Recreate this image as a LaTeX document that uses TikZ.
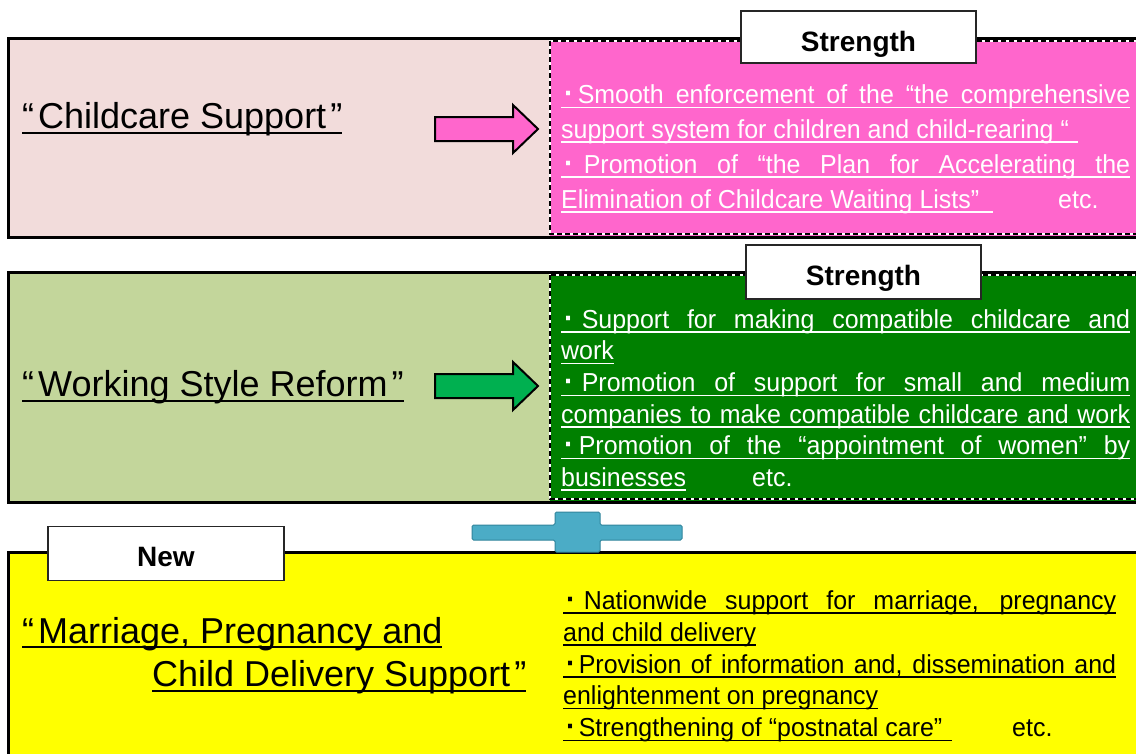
\documentclass[tikz,border=0pt]{standalone}
\usepackage{fontspec}
\setmainfont{Liberation Sans}
\newfontfamily\bodyf[FakeStretch=0.96]{Liberation Sans}
\definecolor{lpink}{HTML}{F2DCDB}
\definecolor{hpink}{HTML}{FF66CC}
\definecolor{lgreen}{HTML}{C3D69B}
\definecolor{dgreen}{HTML}{008000}
\definecolor{agreen}{HTML}{00B050}
\definecolor{plusfill}{HTML}{4BACC6}
\definecolor{plusline}{HTML}{31859C}
\definecolor{ybox}{HTML}{FFFF00}
\newsavebox\ulbox
% #1 offset below baseline, #2 rule thickness, #3 text
\newcommand\ulx[3]{\sbox\ulbox{#3}\usebox\ulbox\llap{\rule[-#1]{\wd\ulbox}{#2}}}
\newcommand\jl[2]{\ulx{4.5pt}{1.3pt}{\makebox[#1][s]{#2}}}
\newcommand\nl[1]{\ulx{4.5pt}{1.3pt}{#1}}
\newcommand\wl[2]{\ulx{4.5pt}{1.3pt}{\makebox[#1][l]{#2}}}
\newcommand\tl[1]{\ulx{5pt}{1.8pt}{#1}}
% Japanese-style middle dot with fixed spacing
\newcommand\dt[1]{\kern3pt{\bfseries\fontsize{30pt}{30pt}\selectfont ·}\kern#1}
\newcommand\oq{“\kern4pt}
\newcommand\cq{\kern4pt”}
\newcommand\bodysize{\bodyf\fontsize{26pt}{30pt}\selectfont}
\newcommand\titlesize{\fontsize{36pt}{40pt}\selectfont}
\newcommand\labsize{\bfseries\fontsize{28pt}{32pt}\selectfont}
\begin{document}
\begin{tikzpicture}[x=1pt,y=-1pt,
  frame/.style={draw=black,line width=3pt},
  innerw/.style={draw=white,line width=1.6pt},
  innerd/.style={draw=black,line width=1.6pt,dash pattern=on 5pt off 3pt},
  blockarrow/.style={draw=black,line width=2pt,line join=miter},
  lab/.style={draw=black!85,line width=1.5pt,fill=white,font=\labsize,inner sep=0pt,text depth=0pt},
  tt/.style={inner sep=0pt,font=\titlesize,text=black,anchor=base west},
  bt/.style={inner sep=0pt,font=\bodysize,anchor=base west},
  wt/.style={bt,text=white},
  kt/.style={bt,text=black},
  plus/.style={fill=plusfill,draw=plusline,line width=1pt,rounded corners=1.5pt}]
\useasboundingbox (0,0) rectangle (1136,753);
\clip (0,0) rectangle (1136,753);
\fill[white] (0,0) rectangle (1136,753);

% ---------- Box 1: Childcare Support ----------
\fill[lpink] (8,38) rectangle (550,237);
\fill[hpink] (550,38) rectangle (1145,237);
\draw[innerw] (550,41) rectangle (1145,234);
\draw[innerd] (550,41) rectangle (1145,234);
\draw[frame] (8,38) rectangle (1145,237);
\draw[blockarrow,fill=hpink] (435,117) -- (513,117) -- (513,105) -- (538,129) -- (513,153) -- (513,141) -- (435,141) -- cycle;
\node[lab,minimum width=235pt,minimum height=52pt,text height=29pt] (s1) at (858.5,37) {Strength};
\node[tt] (t1) at (22,128.5) {\tl{\oq Childcare Support\cq}};
\node[wt] (p1) at (561,103.5) {\jl{569pt}{\dt{4pt}Smooth enforcement of the “the comprehensive}};
\node[wt] (p2) at (561,138) {\wl{517pt}{support system for children and child-rearing “}};
\node[wt] (p3) at (561,173) {\jl{569pt}{\dt{10pt}Promotion of “the Plan for Accelerating the}};
\node[wt] (p4) at (561,208) {\wl{432pt}{Elimination of Childcare Waiting Lists”}};
\node[wt] (p5) at (1058,208) {etc.};

% ---------- Box 2: Working Style Reform ----------
\fill[lgreen] (8,272) rectangle (550,502);
\fill[dgreen] (550,272) rectangle (1145,502);
\draw[innerw] (550,275) rectangle (1145,499);
\draw[innerd] (550,275) rectangle (1145,499);
\draw[frame] (8,272) rectangle (1145,502);
\draw[blockarrow,fill=agreen] (435,374) -- (513,374) -- (513,362) -- (538,386) -- (513,410) -- (513,398) -- (435,398) -- cycle;
\node[lab,minimum width=235pt,minimum height=54pt,text height=26pt] (s2) at (863.5,272) {Strength};
\node[tt] (t2) at (22,396.7) {\tl{\oq Working Style Reform\cq}};
\node[wt] (g1) at (561,328) {\jl{569pt}{\dt{8pt}Support for making compatible childcare and}};
\node[wt] (g2) at (561,359.7) {\nl{work}};
\node[wt] (g3) at (561,391.3) {\jl{569pt}{\dt{8pt}Promotion of support for small and medium}};
\node[wt] (g4) at (561,423) {\jl{569pt}{companies to make compatible childcare and work}};
\node[wt] (g5) at (561,454.6) {\jl{569pt}{\dt{5pt}Promotion of the “appointment of women” by}};
\node[wt] (g6) at (561,486.2) {\nl{businesses}};
\node[wt] (g7) at (752,486.2) {etc.};

% ---------- Box 3: Marriage, Pregnancy and Child Delivery Support ----------
\fill[ybox] (8,552) rectangle (1145,765);
\draw[frame] (8,552) rectangle (1145,765);
\draw[plus] (472,525) -- (555,525) -- (555,512) -- (600,512) -- (600,525) -- (682,525) -- (682,540) -- (600,540) -- (600,552) -- (555,552) -- (555,540) -- (472,540) -- cycle;
\node[lab,minimum width=236pt,minimum height=54pt,text height=26pt] (nw) at (166,553.5) {New};
\node[tt] (t3a) at (22,643) {\tl{\oq Marriage, Pregnancy and}};
\node[tt] (t3b) at (152,686.7) {\tl{Child Delivery Support\cq}};
\node[kt] (y1) at (563,609) {\jl{553pt}{\dt{8pt}Nationwide support for marriage, pregnancy}};
\node[kt] (y2) at (563,641) {\nl{and child delivery}};
\node[kt] (y3) at (563,673) {\jl{553pt}{\dt{3pt}Provision of information and, dissemination and}};
\node[kt] (y4) at (563,704.5) {\nl{enlightenment on pregnancy}};
\node[kt] (y5) at (563,736.5) {\wl{389pt}{\dt{3pt}Strengthening of “postnatal care”}};
\node[kt] (y6) at (1012,736.5) {etc.};
\end{tikzpicture}
\end{document}
